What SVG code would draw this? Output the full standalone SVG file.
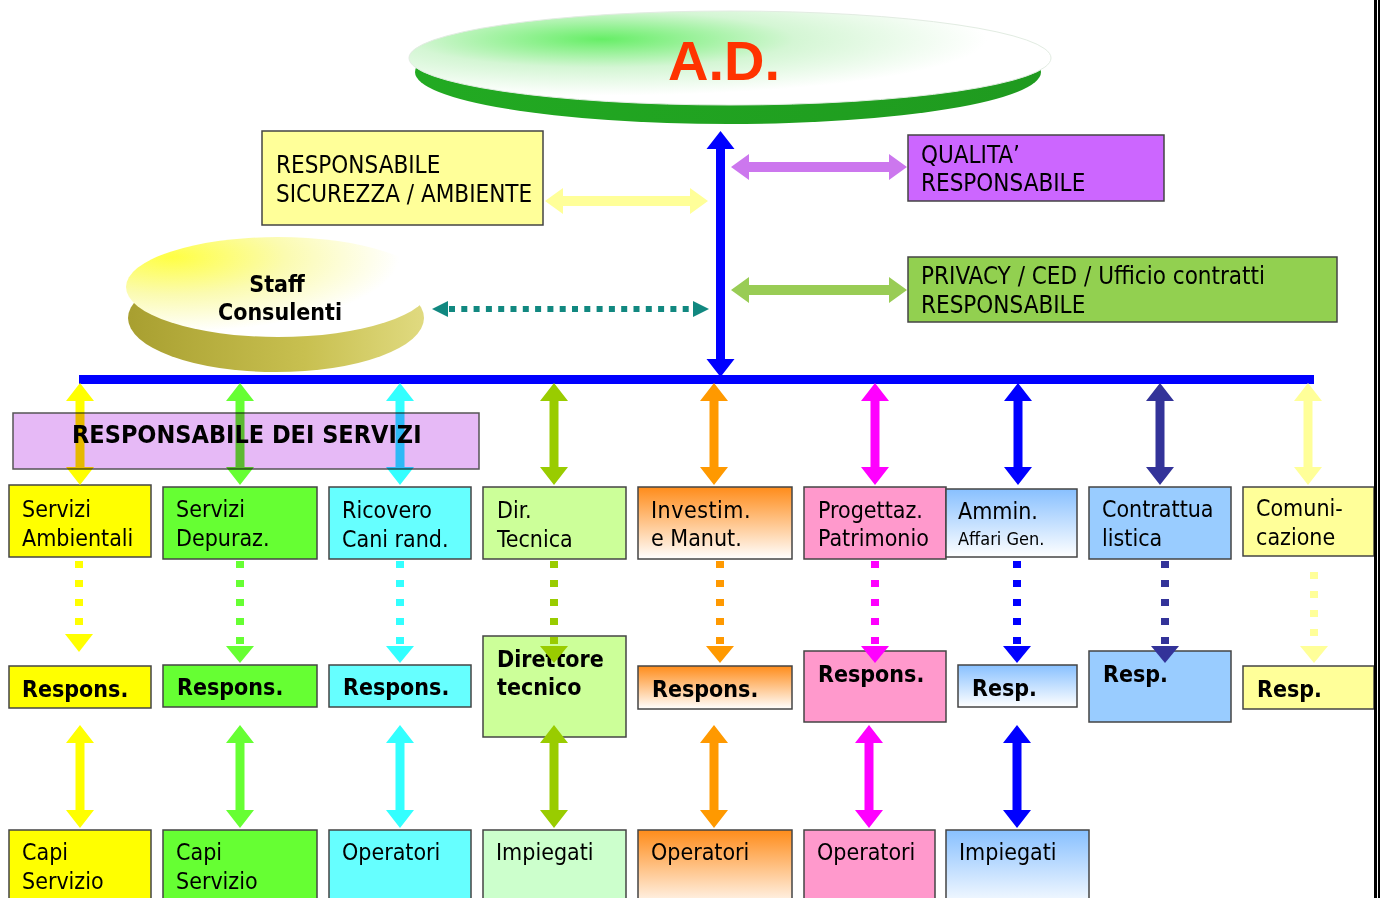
<svg xmlns="http://www.w3.org/2000/svg" xmlns:xlink="http://www.w3.org/1999/xlink" width="1380" height="898" viewBox="0 0 1380 898">
<style>
.t{font-family:"DejaVu Sans Condensed","DejaVu Sans",sans-serif;font-size:23px;fill:#000}
.t24{font-size:24px}
.b{font-weight:bold}
.box{stroke:#444;stroke-width:1.5}
.dl{stroke-width:8;stroke-dasharray:7 12;fill:none}
</style>
<defs>
<radialGradient id="gAD" cx="0.3" cy="0.3" r="0.6">
<stop offset="0" stop-color="#66ee66"/><stop offset="0.5" stop-color="#d4f6d4"/><stop offset="1" stop-color="#ffffff"/>
</radialGradient>
<linearGradient id="gADrim" x1="0" y1="0" x2="1" y2="0">
<stop offset="0" stop-color="#22aa22"/><stop offset="1" stop-color="#1f9a1f"/>
</linearGradient>
<radialGradient id="gStaff" cx="0.15" cy="0.2" r="0.75">
<stop offset="0" stop-color="#ffff44"/><stop offset="0.5" stop-color="#fbfbb0"/><stop offset="1" stop-color="#ffffff"/>
</radialGradient>
<linearGradient id="gStaffRim" x1="0" y1="0" x2="1" y2="0">
<stop offset="0" stop-color="#a89f30"/><stop offset="0.6" stop-color="#c8c050"/><stop offset="1" stop-color="#e0da80"/>
</linearGradient>
<linearGradient id="gOr" x1="0" y1="0" x2="0" y2="1">
<stop offset="0" stop-color="#ff8c1a"/><stop offset="1" stop-color="#ffffff"/>
</linearGradient>
<linearGradient id="gBl" x1="0" y1="0" x2="0" y2="1">
<stop offset="0" stop-color="#88c0ff"/><stop offset="1" stop-color="#ffffff"/>
</linearGradient>
<path id="vaTop" d="M0,383 L14,401 L4.5,401 L4.5,467 L14,467 L0,485 L-14,467 L-4.5,467 L-4.5,401 L-14,401 Z"/>
<path id="vaBot" d="M0,725 L14,743 L4.5,743 L4.5,810 L14,810 L0,828 L-14,810 L-4.5,810 L-4.5,743 L-14,743 Z"/>
<g id="dot">
<line class="dl" x1="0" y1="561" x2="0" y2="645"/>
<path d="M-14,646 L14,646 L0,663 Z" stroke="none"/>
</g>
</defs>
<rect width="1380" height="898" fill="#ffffff"/>

<g id="node-ad">
<ellipse cx="728" cy="72" rx="313" ry="52" fill="url(#gADrim)"/>
<ellipse cx="730" cy="58" rx="321" ry="47" fill="url(#gAD)" stroke="#e2ece2" stroke-width="1"/>
<text x="724" y="80" text-anchor="middle" style="font-family:'Liberation Sans',Arial,sans-serif;font-weight:bold;font-size:56px;fill:#ff3300">A.D.</text>
</g>

<g id="node-sicurezza">
<rect class="box" x="262" y="131" width="281" height="94" fill="#ffff99"/>
<text class="t t24" x="276" y="173">RESPONSABILE</text>
<text class="t t24" x="276" y="202">SICUREZZA / AMBIENTE</text>
</g>

<g id="node-qualita">
<rect class="box" x="908" y="135" width="256" height="66" fill="#cc66ff"/>
<text class="t t24" x="921" y="163">QUALITA’</text>
<text class="t t24" x="921" y="191">RESPONSABILE</text>
</g>

<g id="node-privacy">
<rect class="box" x="908" y="257" width="429" height="65" fill="#92d050"/>
<text class="t t24" x="921" y="284">PRIVACY / CED / Ufficio contratti</text>
<text class="t t24" x="921" y="313">RESPONSABILE</text>
</g>

<g id="node-staff">
<ellipse cx="276" cy="318" rx="148" ry="54" fill="url(#gStaffRim)"/>
<ellipse cx="278" cy="287" rx="152" ry="50" fill="url(#gStaff)"/>
<text class="t b" x="277" y="292" text-anchor="middle">Staff</text>
<text class="t b" x="280" y="320" text-anchor="middle">Consulenti</text>
</g>

<!-- row 1 -->
<g id="node-amb"><rect class="box" x="9" y="485" width="142" height="72" fill="#ffff00"/>
<text class="t" x="22" y="517">Servizi</text><text class="t" x="22" y="546">Ambientali</text></g>
<g id="node-dep"><rect class="box" x="163" y="487" width="154" height="72" fill="#66ff33"/>
<text class="t" x="176" y="517">Servizi</text><text class="t" x="176" y="546">Depuraz.</text></g>
<g id="node-ric"><rect class="box" x="329" y="487" width="142" height="72" fill="#66ffff"/>
<text class="t" x="342" y="518">Ricovero</text><text class="t" x="342" y="547">Cani rand.</text></g>
<g id="node-dir"><rect class="box" x="483" y="487" width="143" height="72" fill="#ccff99"/>
<text class="t" x="497" y="518">Dir.</text><text class="t" x="497" y="547">Tecnica</text></g>
<g id="node-inv"><rect class="box" x="638" y="487" width="154" height="72" fill="url(#gOr)"/>
<text class="t" x="651" y="518" letter-spacing="0.5">Investim.</text><text class="t" x="651" y="546">e Manut.</text></g>
<g id="node-prog"><rect class="box" x="804" y="487" width="142" height="72" fill="#ff99cc"/>
<text class="t" x="818" y="518">Progettaz.</text><text class="t" x="818" y="546">Patrimonio</text></g>
<g id="node-amm"><rect class="box" x="946" y="489" width="131" height="68" fill="url(#gBl)"/>
<text class="t" x="958" y="519">Ammin.</text><text class="t" x="958" y="545" style="font-size:18px">Affari Gen.</text></g>
<g id="node-contr"><rect class="box" x="1089" y="487" width="142" height="72" fill="#99ccff"/>
<text class="t" x="1102" y="517">Contrattua</text><text class="t" x="1102" y="546">listica</text></g>
<g id="node-com"><rect class="box" x="1243" y="487" width="131" height="69" fill="#ffff99"/>
<text class="t" x="1256" y="516">Comuni-</text><text class="t" x="1256" y="545">cazione</text></g>

<!-- row 2 -->
<g id="node-r1"><rect class="box" x="9" y="666" width="142" height="42" fill="#ffff00"/>
<text class="t b" x="22" y="697">Respons.</text></g>
<g id="node-r2"><rect class="box" x="163" y="665" width="154" height="42" fill="#66ff33"/>
<text class="t b" x="177" y="695">Respons.</text></g>
<g id="node-r3"><rect class="box" x="329" y="665" width="142" height="42" fill="#66ffff"/>
<text class="t b" x="343" y="695">Respons.</text></g>
<g id="node-r4"><rect class="box" x="483" y="636" width="143" height="101" fill="#ccff99"/>
<text class="t b" x="497" y="667">Direttore</text><text class="t b" x="497" y="695">tecnico</text></g>
<g id="node-r5"><rect class="box" x="638" y="666" width="154" height="43" fill="url(#gOr)"/>
<text class="t b" x="652" y="697">Respons.</text></g>
<g id="node-r6"><rect class="box" x="804" y="651" width="142" height="71" fill="#ff99cc"/>
<text class="t b" x="818" y="682">Respons.</text></g>
<g id="node-r7"><rect class="box" x="958" y="665" width="119" height="42" fill="url(#gBl)"/>
<text class="t b" x="972" y="696">Resp.</text></g>
<g id="node-r8"><rect class="box" x="1089" y="651" width="142" height="71" fill="#99ccff"/>
<text class="t b" x="1103" y="682">Resp.</text></g>
<g id="node-r9"><rect class="box" x="1243" y="666" width="131" height="43" fill="#ffff99"/>
<text class="t b" x="1257" y="697">Resp.</text></g>

<!-- row 3 -->
<g id="node-c1"><rect class="box" x="9" y="830" width="142" height="80" fill="#ffff00"/>
<text class="t" x="22" y="860">Capi</text><text class="t" x="22" y="889">Servizio</text></g>
<g id="node-c2"><rect class="box" x="163" y="830" width="154" height="80" fill="#66ff33"/>
<text class="t" x="176" y="860">Capi</text><text class="t" x="176" y="889">Servizio</text></g>
<g id="node-c3"><rect class="box" x="329" y="830" width="142" height="80" fill="#66ffff"/>
<text class="t" x="342" y="860">Operatori</text></g>
<g id="node-c4"><rect class="box" x="483" y="830" width="143" height="80" fill="#ccffcc" stroke="#99cc66"/>
<text class="t" x="496" y="860">Impiegati</text></g>
<g id="node-c5"><rect class="box" x="638" y="830" width="154" height="80" fill="url(#gOr)"/>
<text class="t" x="651" y="860">Operatori</text></g>
<g id="node-c6"><rect class="box" x="804" y="830" width="131" height="80" fill="#ff99cc"/>
<text class="t" x="817" y="860">Operatori</text></g>
<g id="node-c7"><rect class="box" x="946" y="830" width="143" height="80" fill="url(#gBl)"/>
<text class="t" x="959" y="860">Impiegati</text></g>

<g id="connectors">
<path d="M720.5,131 L734.5,149 L725,149 L725,359 L734.5,359 L720.5,377 L706.5,359 L716,359 L716,149 L706.5,149 Z" fill="#0000ff"/>
<rect x="79" y="375" width="1235" height="9" fill="#0000ff"/>
<path d="M545,201 L563,188 L563,196 L690,196 L690,188 L708,201 L690,214 L690,206 L563,206 L563,214 Z" fill="#ffff99"/>
<path d="M731,167 L749,154 L749,162 L889,162 L889,154 L907,167 L889,180 L889,172 L749,172 L749,180 Z" fill="#cc77ee"/>
<path d="M731,290 L749,277 L749,285 L889,285 L889,277 L907,290 L889,303 L889,295 L749,295 L749,303 Z" fill="#99cc55"/>
<line x1="449" y1="309" x2="693" y2="309" stroke="#118880" stroke-width="6" stroke-dasharray="6 6.3"/>
<path d="M432,309 L448,301 L448,317 Z M709,309 L693,301 L693,317 Z" fill="#118880"/>

<use href="#vaTop" x="80" fill="#ffff00"/>
<use href="#vaTop" x="240" fill="#66ff33"/>
<use href="#vaTop" x="400" fill="#33ffff"/>
<use href="#vaTop" x="554" fill="#99cc00"/>
<use href="#vaTop" x="714" fill="#ff9900"/>
<use href="#vaTop" x="875" fill="#ff00ff"/>
<use href="#vaTop" x="1018" fill="#0000ff"/>
<use href="#vaTop" x="1160" fill="#333399"/>
<use href="#vaTop" x="1308" fill="#ffff99"/>

<line class="dl" x1="79" y1="561" x2="79" y2="630" stroke="#ffff00"/>
<path d="M65,634 L93,634 L79,652 Z" fill="#ffff00"/>
<use href="#dot" x="240" fill="#66ff33" stroke="#66ff33"/>
<use href="#dot" x="400" fill="#33ffff" stroke="#33ffff"/>
<use href="#dot" x="554" fill="#99cc00" stroke="#99cc00"/>
<use href="#dot" x="720" fill="#ff9900" stroke="#ff9900"/>
<use href="#dot" x="875" fill="#ff00ff" stroke="#ff00ff"/>
<use href="#dot" x="1017" fill="#0000ff" stroke="#0000ff"/>
<use href="#dot" x="1165" fill="#333399" stroke="#333399"/>
<line class="dl" x1="1314" y1="572" x2="1314" y2="645" stroke="#ffff99"/>
<path d="M1300,646 L1328,646 L1314,663 Z" fill="#ffff99"/>

<use href="#vaBot" x="80" fill="#ffff00"/>
<use href="#vaBot" x="240" fill="#66ff33"/>
<use href="#vaBot" x="400" fill="#33ffff"/>
<use href="#vaBot" x="554" fill="#99cc00"/>
<use href="#vaBot" x="714" fill="#ff9900"/>
<use href="#vaBot" x="869" fill="#ff00ff"/>
<use href="#vaBot" x="1017" fill="#0000ff"/>
</g>

<g id="node-resp-servizi">
<rect x="13" y="413" width="466" height="56" fill="#e6b9f6" stroke="#555" stroke-width="1.5" style="mix-blend-mode:multiply"/>
<text class="t b" x="72" y="443" style="font-size:25px">RESPONSABILE DEI SERVIZI</text>
</g>

<g id="frame">
<rect x="1374" y="0" width="3" height="898" fill="#000"/>
<rect x="1378" y="0" width="2" height="898" fill="#000"/>
</g>
</svg>
